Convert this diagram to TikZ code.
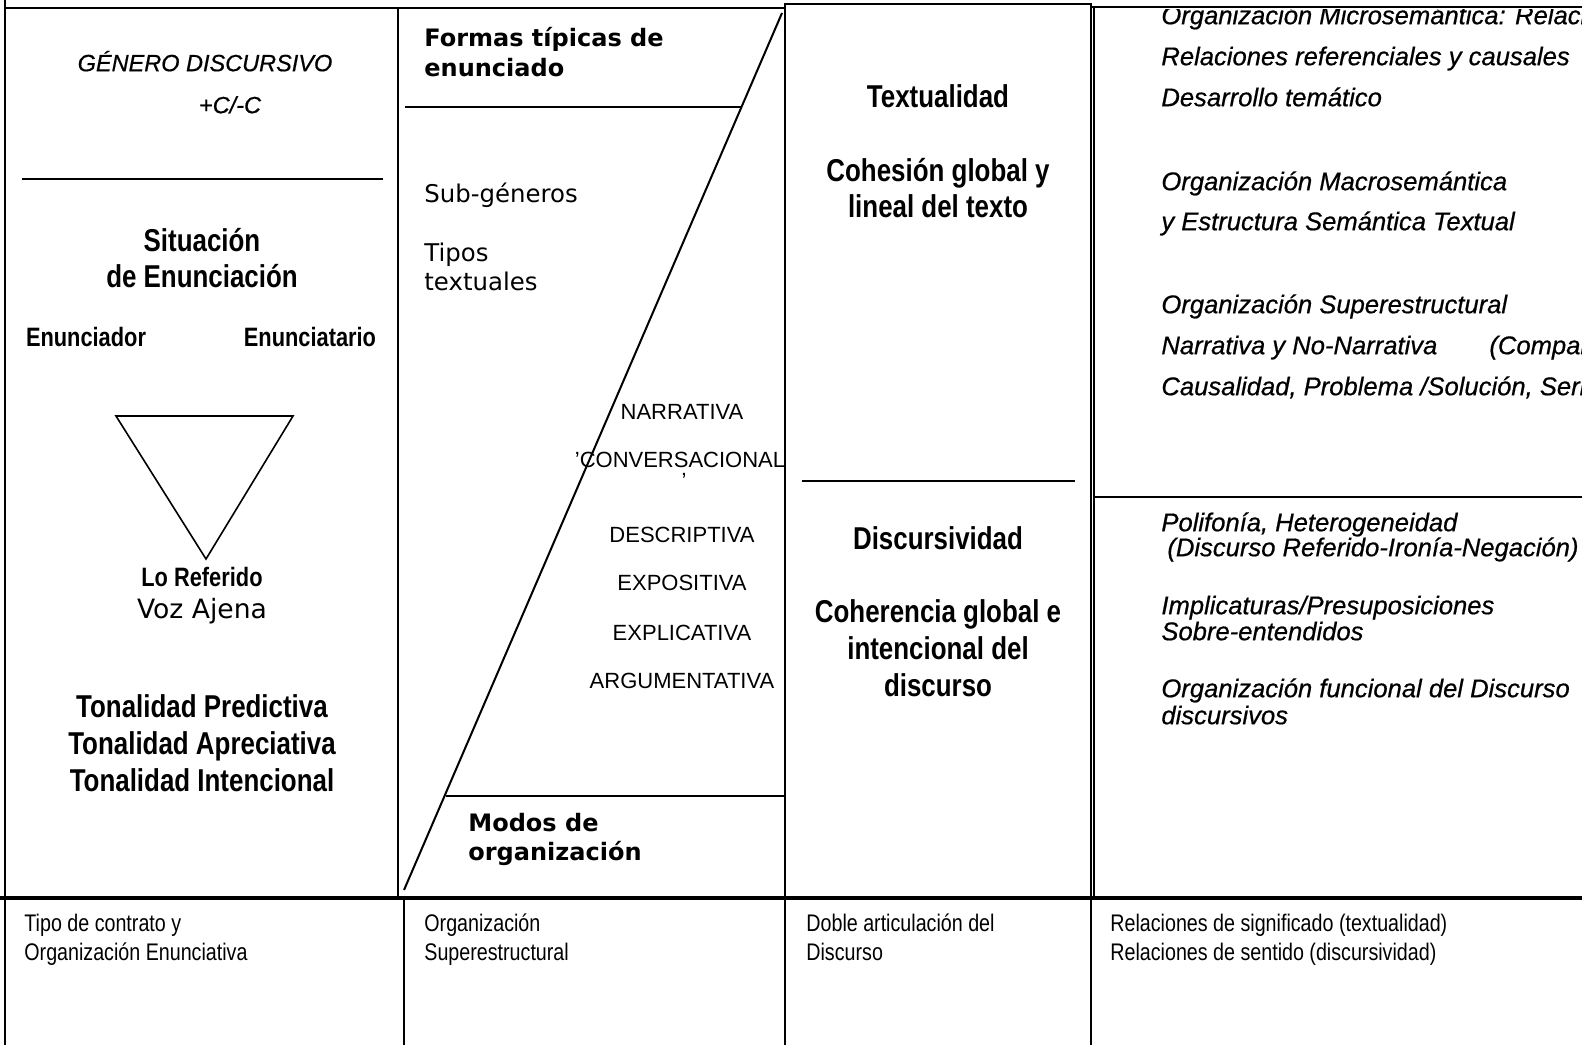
\documentclass[tikz,border=0pt]{standalone}
\usepackage{fontspec}
\setmainfont{Liberation Sans}
\newfontfamily\nar[FakeStretch=0.82]{Liberation Sans}
\newfontfamily\itb[FakeBold=0.6]{Liberation Sans}
\newfontfamily\dv{DejaVu Sans}
\begin{document}
\begin{tikzpicture}[x=0.5pt,y=-0.5pt,
  txt/.style={inner sep=0pt, text height=0.72em, text depth=0.2em},
  bl/.style={txt, font=\nar\bfseries\fontsize{15.8}{18}\selectfont},
  blsm/.style={txt, font=\nar\bfseries\fontsize{13.3}{15}\selectfont},
  itl/.style={txt, anchor=west, font=\itb\itshape\fontsize{12.8}{15}\selectfont},
  itc/.style={txt, font=\itb\itshape\fontsize{11.75}{14}\selectfont},
  bot/.style={txt, anchor=west, font=\nar\fontsize{12}{14}\selectfont},
  mode/.style={txt, font=\fontsize{11}{13}\selectfont},
  dvb/.style={txt, anchor=west, font=\dv\bfseries\fontsize{12}{14}\selectfont},
  dvr/.style={txt, anchor=west, font=\dv\fontsize{12.2}{14}\selectfont},
  ln/.style={line width=1pt},
  thk/.style={line width=1.7pt}]
\useasboundingbox (0,0) rectangle (1582,1045);
\clip (0,0) rectangle (1582,1045);

% ---------- frame ----------
\draw[ln] (5,0) -- (5,1045);
\draw[ln] (5,8) -- (785,8);
\draw[ln] (1091,7) -- (1582,7);
\draw[ln] (785,4) rectangle (1091,898);
\draw[ln] (1094,7) -- (1094,898);
\draw[ln] (398,8) -- (398,898);
\draw[thk] (0,898) -- (1582,898);
\draw[ln] (404,898) -- (404,1045);
\draw[ln] (785,898) -- (785,1045);
\draw[ln] (1091,898) -- (1091,1045);

% ---------- inner rules ----------
\draw[ln] (22,179) -- (383,179);
\draw[ln] (405,107) -- (741,107);
\draw[ln] (782,13) -- (404,890);
\draw[ln] (446,796) -- (785,796);
\draw[ln] (802,481) -- (1075,481);
\draw[ln] (1094,497) -- (1582,497);
\draw[line width=0.8pt] (116,416) -- (293,416) -- (206,559) -- cycle;

% ---------- column 1 ----------
\node[itc] (gen) at (205,66) {GÉNERO DISCURSIVO};
\node[itc] (cc) at (230,108) {+C/-C};
\node[bl] (sit1) at (202,246) {Situación};
\node[bl] (sit2) at (202,282) {de Enunciación};
\node[blsm] (enr) at (86,341) {Enunciador};
\node[blsm] (ent) at (310,341) {Enunciatario};
\node[blsm] (ref) at (202,581) {Lo Referido};
\node[txt, font=\dv\fontsize{13.3}{15}\selectfont] (voz) at (202,613) {Voz Ajena};
\node[bl] (ton1) at (202,712) {Tonalidad Predictiva};
\node[bl] (ton2) at (202,749) {Tonalidad Apreciativa};
\node[bl] (ton3) at (202,786) {Tonalidad Intencional};

% ---------- column 2 ----------
\node[dvb] (for1) at (424,41) {Formas típicas de};
\node[dvb] (for2) at (424,71) {enunciado};
\node[dvr] (sub) at (424,197) {Sub-géneros};
\node[dvr] (tip1) at (424,256) {Tipos};
\node[dvr] (tip2) at (424,285) {textuales};
\node[mode] (nar) at (682,414) {NARRATIVA};
\node[mode] (con) at (680,462) {’CONVERSACIONAL};
\node[mode] (con2) at (684,483) {’};
\node[mode] (des) at (682,537) {DESCRIPTIVA};
\node[mode] (expo) at (682,585) {EXPOSITIVA};
\node[mode] (expl) at (682,635) {EXPLICATIVA};
\node[mode] (arg) at (682,683) {ARGUMENTATIVA};
\node[dvb] (mod1) at (468,826) {Modos de};
\node[dvb] (mod2) at (468,855) {organización};

% ---------- column 3 ----------
\node[bl] (txtl) at (938,102) {Textualidad};
\node[bl] (coh1) at (938,176) {Cohesión global y};
\node[bl] (coh2) at (938,212) {lineal del texto};
\node[bl] (dis) at (938,544) {Discursividad};
\node[bl] (chr1) at (938,617) {Coherencia global e};
\node[bl] (chr2) at (938,654) {intencional del};
\node[bl] (chr3) at (938,691) {discurso};

% ---------- column 4 ----------
\begin{scope}
\clip (1096,9) rectangle (1582,896);
\node[itl] (mi1) at (1161,19) {Organización Microsemántica: Relaci};
\node[itl] (mi2) at (1161,60) {Relaciones referenciales y causales};
\node[itl] (mi3) at (1161,101) {Desarrollo temático};
\node[itl] (ma1) at (1161,185) {Organización Macrosemántica};
\node[itl] (ma2) at (1161,225) {y Estructura Semántica Textual};
\node[itl] (su1) at (1161,308) {Organización Superestructural};
\node[itl] (su2) at (1161,349) {Narrativa y No-Narrativa};
\node[itl] (su3) at (1489,349) {(Compar};
\node[itl] (su4) at (1161,390) {Causalidad, Problema /Solución, Seri};
\node[itl] (po1) at (1161,526) {Polifonía, Heterogeneidad};
\node[itl] (po2) at (1167,551) {(Discurso Referido-Ironía-Negación)};
\node[itl] (im1) at (1161,609) {Implicaturas/Presuposiciones};
\node[itl] (im2) at (1161,635) {Sobre-entendidos};
\node[itl] (of1) at (1161,692) {Organización funcional del Discurso};
\node[itl] (of2) at (1161,719) {discursivos};
\end{scope}

% ---------- bottom row ----------
\node[bot] (b11) at (24,926) {Tipo de contrato y};
\node[bot] (b12) at (24,955) {Organización Enunciativa};
\node[bot] (b21) at (424,926) {Organización};
\node[bot] (b22) at (424,955) {Superestructural};
\node[bot] (b31) at (806,926) {Doble articulación del};
\node[bot] (b32) at (806,955) {Discurso};
\node[bot] (b41) at (1110,926) {Relaciones de significado (textualidad)};
\node[bot] (b42) at (1110,955) {Relaciones de sentido (discursividad)};
\end{tikzpicture}
\end{document}
